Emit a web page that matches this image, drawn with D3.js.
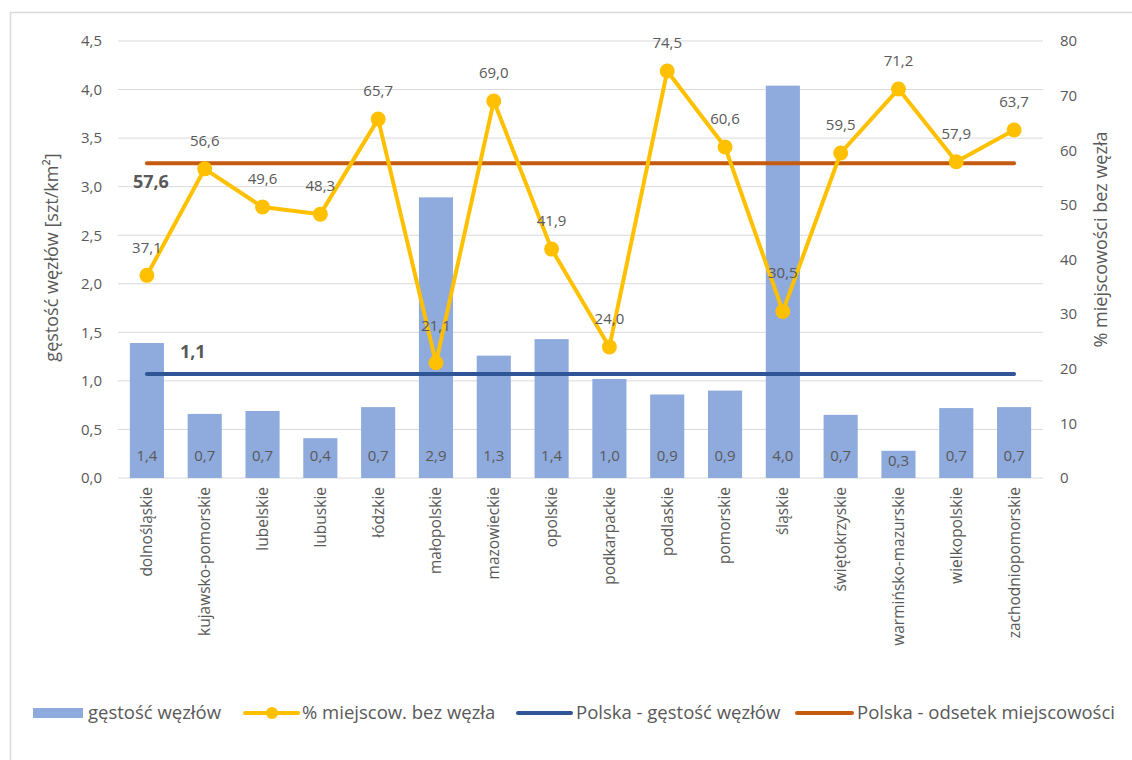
<!DOCTYPE html>
<html lang="pl">
<head>
  <meta charset="UTF-8">
  <title>gęstość węzłów</title>
  <script src="https://cdn.jsdelivr.net/npm/d3@7"></script>
  <style>
    body { margin: 0; background: #fff; }
    text { font-family: "Open Sans", sans-serif; fill: #595959; }
  </style>
</head>
<body>
<svg width="1132" height="760"></svg>
<script>
  // dane
  const regions = ["dolnośląskie", "kujawsko-pomorskie", "lubelskie", "lubuskie", "łódzkie",
    "małopolskie", "mazowieckie", "opolskie", "podkarpackie", "podlaskie", "pomorskie",
    "śląskie", "świętokrzyskie", "warmińsko-mazurskie", "wielkopolskie", "zachodniopomorskie"];
  const density = [1.39, 0.66, 0.69, 0.41, 0.73, 2.89, 1.26, 1.43, 1.02, 0.86, 0.90, 4.04, 0.65, 0.28, 0.72, 0.73];
  const noNode = [37.1, 56.6, 49.6, 48.3, 65.7, 21.1, 69.0, 41.9, 24.0, 74.5, 60.6, 30.5, 59.5, 71.2, 57.9, 63.7];
  const polandDensity = 1.07;
  const polandNoNode = 57.6;
  const leftTicks = [0, 0.5, 1, 1.5, 2, 2.5, 3, 3.5, 4, 4.5];
  const rightTicks = [0, 10, 20, 30, 40, 50, 60, 70, 80];

  const fmt = v => v.toFixed(1).replace(".", ",");

  const svg = d3.select("svg");
  const margin = { left: 118, right: 89, top: 41, bottom: 282 };
  const width = +svg.attr("width"), height = +svg.attr("height");
  const innerW = width - margin.left - margin.right;
  const innerH = height - margin.top - margin.bottom;

  // ramka
  svg.append("rect").attr("x", 10.5).attr("y", 12.5).attr("width", 1200).attr("height", 900)
    .attr("fill", "none").attr("stroke", "#d9d9d9").attr("stroke-width", 1.5);

  const g = svg.append("g").attr("transform", `translate(${margin.left},${margin.top})`);

  const x = d3.scaleBand().domain(regions).range([0, innerW]).paddingInner(0.41).paddingOuter(0.205);
  const yL = d3.scaleLinear().domain([0, 4.5]).range([innerH, 0]);
  const yR = d3.scaleLinear().domain([0, 80]).range([innerH, 0]);
  const cx = d => x(d) + x.bandwidth() / 2;

  // siatka
  g.append("g").selectAll("line").data(leftTicks).join("line")
    .attr("x1", 0).attr("x2", innerW)
    .attr("y1", d => yL(d)).attr("y2", d => yL(d))
    .attr("stroke", "#d9d9d9").attr("stroke-width", 1);

  // osie
  const axL = g.append("g").call(d3.axisLeft(yL).tickValues(leftTicks).tickFormat(fmt).tickSize(0).tickPadding(16));
  axL.select(".domain").remove();
  axL.selectAll("text").attr("font-size", 15).attr("fill", "#595959").attr("font-family", "Open Sans");

  const axR = g.append("g").attr("transform", `translate(${innerW},0)`)
    .call(d3.axisRight(yR).tickValues(rightTicks).tickSize(0).tickPadding(17));
  axR.select(".domain").remove();
  axR.selectAll("text").attr("font-size", 15).attr("fill", "#595959").attr("font-family", "Open Sans");

  const axB = g.append("g").attr("transform", `translate(0,${innerH})`)
    .call(d3.axisBottom(x).tickSize(0));
  axB.select(".domain").remove();
  axB.selectAll("text")
    .attr("font-size", 15.5).attr("fill", "#595959").attr("font-family", "Open Sans")
    .attr("transform", "rotate(-90)")
    .attr("text-anchor", "end")
    .attr("x", -9).attr("y", 0).attr("dy", "0.35em");

  // słupki
  g.append("g").selectAll("rect").data(regions).join("rect")
    .attr("x", d => x(d)).attr("width", x.bandwidth())
    .attr("y", (d, i) => yL(density[i]))
    .attr("height", (d, i) => innerH - yL(density[i]))
    .attr("fill", "#8faadc");

  g.append("g").selectAll("text").data(regions).join("text")
    .attr("x", d => cx(d))
    .attr("y", (d, i) => Math.max(innerH - 22, yL(density[i]) + 10))
    .attr("dy", "0.35em")
    .attr("text-anchor", "middle").attr("font-size", 15).attr("fill", "#404040")
    .text((d, i) => fmt(density[i]));

  // linie Polska
  const x0 = cx(regions[0]), x1 = cx(regions[regions.length - 1]);
  g.append("line").attr("x1", x0).attr("x2", x1)
    .attr("y1", yL(polandDensity)).attr("y2", yL(polandDensity))
    .attr("stroke", "#2f5597").attr("stroke-width", 4).attr("stroke-linecap", "round");
  g.append("line").attr("x1", x0).attr("x2", x1)
    .attr("y1", yR(polandNoNode)).attr("y2", yR(polandNoNode))
    .attr("stroke", "#c55a11").attr("stroke-width", 4).attr("stroke-linecap", "round");

  g.append("text").attr("x", x0 + 33).attr("y", yL(polandDensity) - 22).attr("dy", "0.35em")
    .attr("font-size", 18).attr("font-weight", 700).attr("fill", "#404040").text(fmt(1.1));
  g.append("text").attr("x", x0 - 14).attr("y", yR(polandNoNode) + 18).attr("dy", "0.35em")
    .attr("font-size", 18).attr("font-weight", 700).attr("fill", "#404040").text(fmt(polandNoNode));

  // linia % miejscowości
  const line = d3.line().x((d, i) => cx(regions[i])).y(d => yR(d));
  g.append("path").datum(noNode).attr("d", line)
    .attr("fill", "none").attr("stroke", "#ffc000").attr("stroke-width", 4).attr("stroke-linejoin", "round");
  g.append("g").selectAll("circle").data(noNode).join("circle")
    .attr("cx", (d, i) => cx(regions[i])).attr("cy", d => yR(d)).attr("r", 7.5)
    .attr("fill", "#ffc000");

  const labelLift = { "małopolskie": 37, "śląskie": 39 };
  g.append("g").selectAll("text").data(noNode).join("text")
    .attr("x", (d, i) => cx(regions[i]))
    .attr("y", (d, i) => yR(d) - (labelLift[regions[i]] || 28))
    .attr("dy", "0.35em")
    .attr("text-anchor", "middle").attr("font-size", 15).attr("fill", "#595959")
    .text(d => fmt(d));

  // tytuły osi
  svg.append("text").attr("transform", `translate(52,${margin.top + innerH / 2 - 2}) rotate(-90)`)
    .attr("text-anchor", "middle").attr("dy", "0.35em").attr("font-size", 18)
    .text("gęstość węzłów [szt/km²]");
  svg.append("text").attr("transform", `translate(1101,${margin.top + innerH / 2 - 20}) rotate(-90)`)
    .attr("text-anchor", "middle").attr("dy", "0.35em").attr("font-size", 18)
    .text("% miejscowości bez węzła");

  // legenda
  const ly = 713;
  const fs = 18.5;
  const leg = svg.append("g");
  leg.append("rect").attr("x", 33).attr("y", ly - 5).attr("width", 50).attr("height", 10).attr("fill", "#8faadc");
  leg.append("text").attr("x", 88).attr("y", ly).attr("dy", "0.35em").attr("font-size", fs).text("gęstość węzłów");

  leg.append("line").attr("x1", 245).attr("x2", 298).attr("y1", ly).attr("y2", ly)
    .attr("stroke", "#ffc000").attr("stroke-width", 4).attr("stroke-linecap", "round");
  leg.append("circle").attr("cx", 272).attr("cy", ly).attr("r", 6).attr("fill", "#ffc000");
  leg.append("text").attr("x", 302).attr("y", ly).attr("dy", "0.35em").attr("font-size", fs).text("% miejscow. bez węzła");

  leg.append("line").attr("x1", 518).attr("x2", 571).attr("y1", ly).attr("y2", ly)
    .attr("stroke", "#2f5597").attr("stroke-width", 4).attr("stroke-linecap", "round");
  leg.append("text").attr("x", 576).attr("y", ly).attr("dy", "0.35em").attr("font-size", fs).text("Polska - gęstość węzłów");

  leg.append("line").attr("x1", 797).attr("x2", 852).attr("y1", ly).attr("y2", ly)
    .attr("stroke", "#c55a11").attr("stroke-width", 4).attr("stroke-linecap", "round");
  leg.append("text").attr("x", 857).attr("y", ly).attr("dy", "0.35em").attr("font-size", fs).text("Polska - odsetek miejscowości");
</script>
</body>
</html>
